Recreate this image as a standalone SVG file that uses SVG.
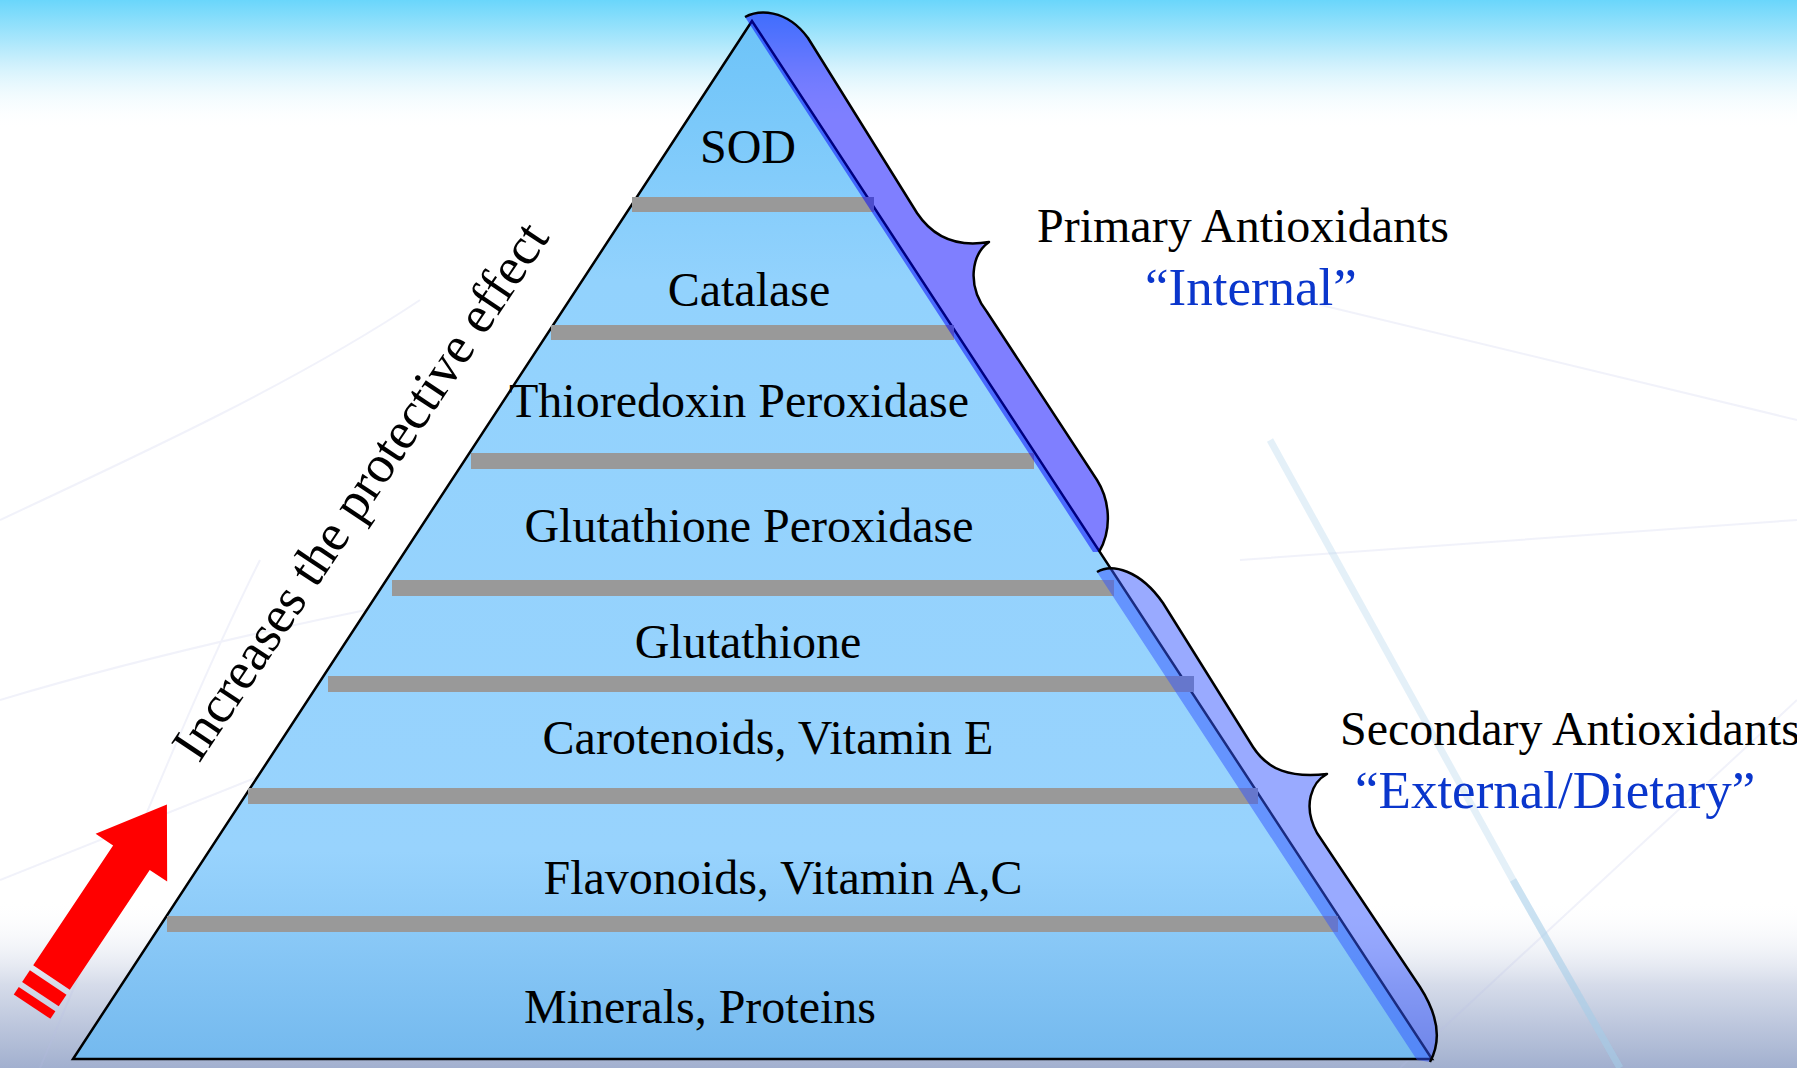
<svg xmlns="http://www.w3.org/2000/svg" width="1797" height="1068" viewBox="0 0 1797 1068">
<defs>
<linearGradient id="bgTop" x1="0" y1="0" x2="0" y2="1">
<stop offset="0" stop-color="#6ad6fb"/>
<stop offset="0.45" stop-color="#c6eefc"/>
<stop offset="1" stop-color="#ffffff" stop-opacity="0"/>
</linearGradient>
<linearGradient id="bgBot" x1="0" y1="0" x2="0" y2="1">
<stop offset="0" stop-color="#ffffff" stop-opacity="0"/>
<stop offset="0.5" stop-color="#d6dcea"/>
<stop offset="1" stop-color="#a2b0cf"/>
</linearGradient>
<linearGradient id="tri" x1="0" y1="0" x2="0" y2="1">
<stop offset="0" stop-color="#6cc3f8"/>
<stop offset="0.25" stop-color="#92d2fd"/>
<stop offset="0.8" stop-color="#98d3fd"/>
<stop offset="1" stop-color="#74b9ee"/>
</linearGradient>
<style>
.lbl{font-family:"Liberation Serif","Times New Roman",serif;font-size:48px;fill:#000;text-anchor:middle}
.side{font-family:"Liberation Serif","Times New Roman",serif;font-size:48px;fill:#000}
.blue{font-family:"Liberation Serif","Times New Roman",serif;font-size:53px;fill:#0a36cc}
.rot{font-family:"Liberation Serif","Times New Roman",serif;font-size:53px;fill:#000}
.bar{fill:#999999}
.bline{fill:none;stroke:#000;stroke-width:2.5;stroke-linejoin:round}
.deco{fill:none;stroke:#b8bce6;stroke-width:2;opacity:0.2}
</style>
</defs>

<g id="background">
<rect x="0" y="0" width="1797" height="1068" fill="#ffffff"/>
<rect x="0" y="0" width="1797" height="130" fill="url(#bgTop)"/>
<rect x="0" y="900" width="1797" height="168" fill="url(#bgBot)"/>
<path class="deco" d="M0,520 C150,450 300,380 420,300 M0,700 C200,640 450,590 640,560 M0,880 L300,760 M40,1068 C120,880 190,700 260,560 M1300,300 L1797,420 M1240,560 L1797,520 M1400,1068 L1797,700"/>
<path d="M1270,440 L1513,880 L1620,1068" stroke="#a6cce8" stroke-width="7" fill="none" opacity="0.3"/>
<path d="M1513,880 L1620,1068" stroke="#a6cce8" stroke-width="7" fill="none" opacity="0.4"/>
</g>

<g id="pyramid">
<polygon points="752,21 73,1059 1432,1059" fill="url(#tri)" stroke="#000" stroke-width="2.5" stroke-linejoin="miter"/>
</g>

<g id="bars">
<rect class="bar" x="632" y="197" width="242" height="15"/>
<rect class="bar" x="551" y="325" width="403" height="15"/>
<rect class="bar" x="471" y="453" width="563" height="16"/>
<rect class="bar" x="392" y="580" width="722" height="16"/>
<rect class="bar" x="328" y="676" width="866" height="16"/>
<rect class="bar" x="248" y="788" width="1010" height="16"/>
<rect class="bar" x="167" y="916" width="1171" height="16"/>
</g>

<g id="level-labels">
<text class="lbl" x="748" y="163">SOD</text>
<text class="lbl" x="749" y="306">Catalase</text>
<text class="lbl" x="739" y="417">Thioredoxin Peroxidase</text>
<text class="lbl" x="749" y="542">Glutathione Peroxidase</text>
<text class="lbl" x="748" y="658">Glutathione</text>
<text class="lbl" x="768" y="754">Carotenoids, Vitamin E</text>
<text class="lbl" x="783" y="894">Flavonoids, Vitamin A,C</text>
<text class="lbl" x="700" y="1023">Minerals, Proteins</text>
</g>

<g id="brace-primary">
<path d="M745,17 C758,10 786,8 808,38 L917,213 C935,240 960,247 989,242 C972,254 966,285 987,312 L1097,480 C1109,499 1113,528 1099,552 L1093,552 Z" fill="#0000ff" fill-opacity="0.5"/>
<path class="bline" d="M745,17 C758,10 786,8 808,38 L917,213 C935,240 960,247 989,242 C972,254 966,285 987,312 L1097,480 C1109,499 1113,528 1099,552"/>
</g>

<g id="brace-secondary">
<path d="M1097,572 C1112,563 1140,570 1163,603 L1253,747 C1268,770 1290,778 1327,774 C1312,782 1302,805 1317,833 L1420,987 C1438,1015 1442,1040 1430,1062 L1417,1060 Z" fill="#3355ff" fill-opacity="0.5"/>
<path class="bline" d="M1097,572 C1112,563 1140,570 1163,603 L1253,747 C1268,770 1290,778 1327,774 C1312,782 1302,805 1317,833 L1420,987 C1438,1015 1442,1040 1430,1062"/>
</g>

<g id="primary-label">
<text class="side" x="1037" y="242">Primary Antioxidants</text>
<text class="blue" x="1145" y="305">“Internal”</text>
</g>

<g id="secondary-label">
<text class="side" x="1340" y="745">Secondary Antioxidants</text>
<text class="blue" x="1355" y="808">“External/Dietary”</text>
</g>

<g id="direction">
<g transform="translate(51.5,977.5) rotate(33.7)" fill="#ff0000">
<polygon points="-22,0 22,0 22,-144 43,-144 0,-208 -43,-144 -22,-144"/>
<rect x="-22" y="6" width="44" height="14"/>
<rect x="-22" y="26" width="44" height="9"/>
</g>
<text class="rot" transform="translate(199,764) rotate(-56.3)">Increases the protective effect</text>
</g>
</svg>
